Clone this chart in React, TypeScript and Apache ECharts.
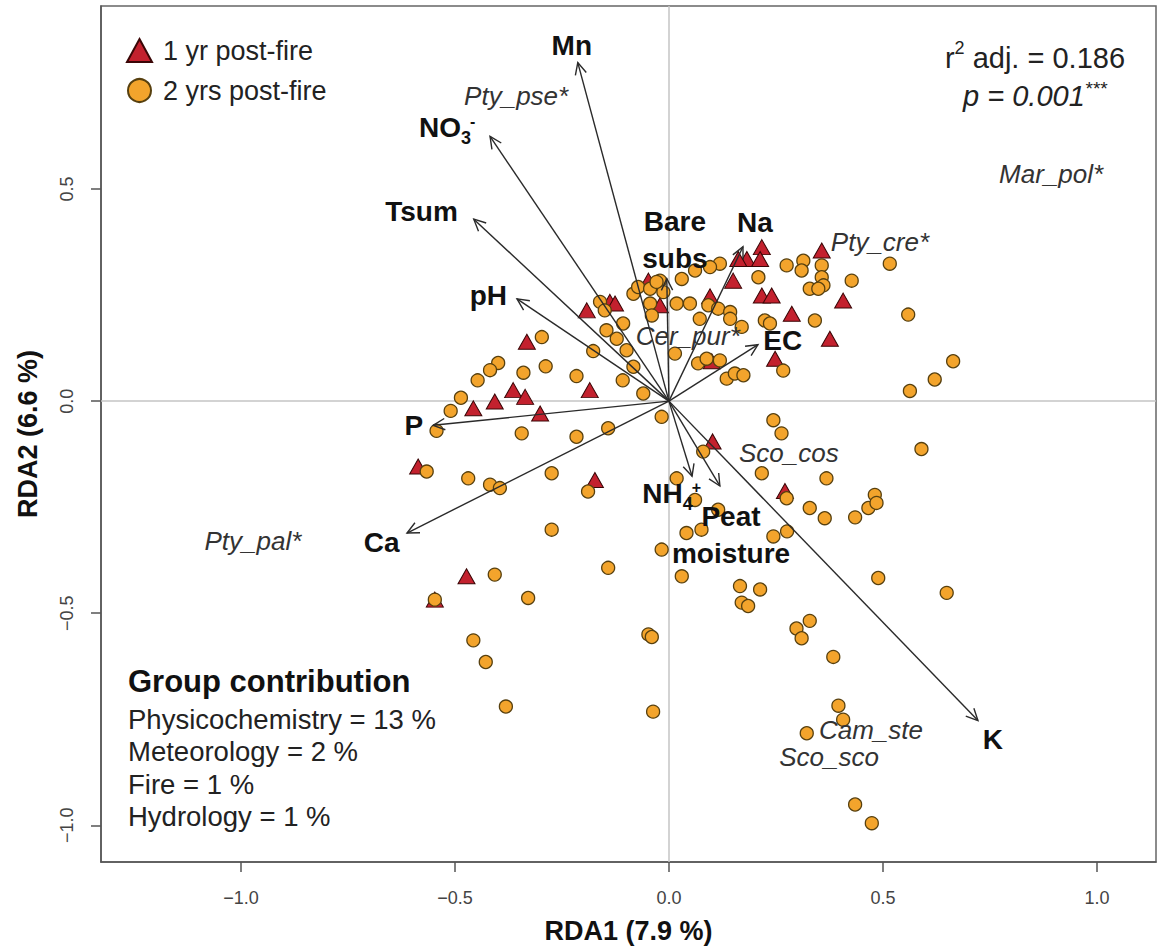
import React, { useEffect, useRef } from 'react';
import * as echarts from 'echarts';

const FONT = "'Liberation Sans', Arial, Helvetica, sans-serif";

// Axis ranges and tick positions (RDA scores)
const xRange = [-1.327, 1.138];
const yRange = [-1.0865, 0.9315];
const xTicks = [-1, -0.5, 0, 0.5, 1];
const yTicks = [-1, -0.5, 0, 0.5];
const xTitle = 'RDA1 (7.9 %)';
const yTitle = 'RDA2 (6.6 %)';

// Site scores, 1 year after the fire (RDA1, RDA2)
const sites1yr: [number, number][] = [
  [-0.332, 0.140], [-0.192, 0.214], [-0.138, 0.234], [-0.126, 0.230], [-0.364, 0.026],
  [-0.336, 0.010], [-0.407, -0.001], [-0.457, -0.017], [-0.301, -0.029], [-0.185, 0.026],
  [-0.048, 0.284], [-0.021, 0.226], [0.096, 0.247], [0.150, 0.284], [0.182, 0.335],
  [0.162, 0.335], [0.217, 0.363], [0.213, 0.335], [0.217, 0.249], [0.240, 0.249],
  [0.287, 0.206], [0.248, 0.100], [0.100, 0.094], [0.357, 0.355], [0.407, 0.237],
  [0.376, 0.147], [-0.586, -0.154], [-0.173, -0.186], [-0.473, -0.413], [-0.547, -0.468],
  [0.102, -0.095], [0.271, -0.212],
];

// Site scores, 2 years after the fire (RDA1, RDA2)
const sites2yr: [number, number][] = [
  [-0.297, 0.151], [-0.399, 0.090], [-0.418, 0.073], [-0.447, 0.049], [-0.340, 0.067],
  [-0.288, 0.082], [-0.216, 0.059], [-0.108, 0.049], [-0.177, 0.118], [-0.486, 0.008],
  [-0.510, -0.023], [-0.543, -0.070], [-0.344, -0.076], [-0.060, 0.018], [-0.017, -0.037],
  [0.244, -0.045], [0.263, -0.076], [-0.146, 0.167], [-0.122, 0.147], [-0.099, 0.120],
  [-0.107, 0.183], [-0.083, 0.081], [-0.161, 0.234], [-0.150, 0.214], [-0.083, 0.253],
  [-0.072, 0.269], [-0.044, 0.265], [-0.021, 0.284], [-0.013, 0.257], [-0.044, 0.230],
  [-0.040, 0.202], [0.018, 0.230], [0.049, 0.230], [0.030, 0.288], [0.119, 0.324],
  [0.096, 0.316], [0.072, 0.194], [0.092, 0.226], [0.115, 0.218], [0.143, 0.210],
  [0.143, 0.194], [0.209, 0.292], [0.224, 0.190], [0.236, 0.183], [0.267, 0.072],
  [0.275, 0.320], [0.135, 0.053], [0.154, 0.065], [0.174, 0.061], [0.068, 0.089],
  [0.088, 0.100], [0.119, 0.096], [0.014, 0.112], [0.170, 0.175], [0.061, 0.308],
  [0.314, 0.331], [0.310, 0.308], [0.357, 0.320], [0.357, 0.292], [0.361, 0.273],
  [0.329, 0.265], [0.349, 0.265], [0.427, 0.284], [0.516, 0.324], [0.341, 0.190],
  [0.559, 0.204], [0.664, 0.094], [0.621, 0.051], [0.563, 0.024], [-0.216, -0.084],
  [-0.142, -0.064], [-0.566, -0.166], [-0.469, -0.182], [-0.418, -0.197], [-0.395, -0.205],
  [-0.274, -0.170], [-0.189, -0.213], [-0.274, -0.303], [-0.142, -0.393], [-0.407, -0.409],
  [-0.547, -0.468], [-0.329, -0.464], [-0.457, -0.564], [-0.428, -0.615], [-0.048, -0.550],
  [-0.040, -0.556], [0.018, -0.182], [0.080, -0.119], [0.061, -0.233], [0.041, -0.311],
  [0.076, -0.303], [-0.017, -0.350], [0.030, -0.413], [0.115, -0.256], [0.166, -0.436],
  [0.213, -0.444], [0.170, -0.475], [0.185, -0.483], [0.244, -0.319], [0.276, -0.307],
  [0.217, -0.170], [0.275, -0.229], [0.590, -0.113], [0.368, -0.182], [0.329, -0.252],
  [0.364, -0.276], [0.435, -0.274], [0.466, -0.252], [0.481, -0.221], [0.485, -0.240],
  [0.489, -0.417], [0.649, -0.452], [0.298, -0.536], [0.329, -0.518], [0.310, -0.559],
  [0.384, -0.603], [0.396, -0.718], [0.407, -0.751], [0.322, -0.783], [0.435, -0.951],
  [0.474, -0.995], [-0.381, -0.720], [-0.037, -0.732], [-0.029, 0.281],
];

// Explanatory variables: biplot arrow tips
const envRDA1 = [-0.213, -0.418, -0.456, -0.355, -0.551, -0.612, 0.208, 0.173, -0.005, 0.054, 0.119, 0.722];
const envRDA2 = [0.798, 0.624, 0.429, 0.241, -0.057, -0.311, 0.133, 0.364, 0.289, -0.177, -0.200, -0.753];
// Their labels, with sub/superscripts, and where the labels sit
const envLabels = ['Mn', 'NO', 'Tsum', 'pH', 'P', 'Ca', 'EC', 'Na', 'Bare\nsubs', 'NH', 'Peat\nmoisture', 'K'];
const envSub = ['', '3', '', '', '', '', '', '', '', '4', '', ''];
const envSup = ['', '-', '', '', '', '', '', '', '', '+', '', ''];
const envLabelX = [-0.227, -0.535, -0.578, -0.422, -0.596, -0.671, 0.266, 0.201, 0.014, -0.015, 0.145, 0.757];
const envLabelY = [0.838, 0.646, 0.446, 0.249, -0.057, -0.334, 0.143, 0.422, 0.380, -0.217, -0.316, -0.797];

// Species scores
const sppNames = ['Pty_pse*', 'Mar_pol*', 'Pty_cre*', 'Cer_pur*', 'Pty_pal*', 'Sco_cos', 'Cam_ste', 'Sco_sco'];
const sppRDA1 = [-0.357, 0.893, 0.493, 0.044, -0.972, 0.280, 0.472, 0.374];
const sppRDA2 = [0.720, 0.535, 0.375, 0.154, -0.330, -0.123, -0.776, -0.840];

// Model statistics
const r2adj = '0.186';
const pValue = '0.001';
const pStars = '***';

// Variance partitioning by variable group
const groupTitle = 'Group contribution';
const groupNames = ['Physicochemistry', 'Meteorology', 'Fire', 'Hydrology'];
const groupPct = [13, 2, 1, 1];

const seriesNames = ['1 yr post-fire', '2 yrs post-fire'];

function textWidth(text: string, size: number, weight = 'normal', style = 'normal') {
  const ctx = document.createElement('canvas').getContext('2d');
  if (!ctx) return text.length * size * 0.55;
  ctx.font = `${style} ${weight} ${size}px ${FONT}`;
  return ctx.measureText(text).width;
}

const fmtTick = (v: number) => (v < 0 ? '\u2212' : '') + Math.abs(v).toFixed(1);

export default function App() {
  const ref = useRef<HTMLDivElement>(null);

  useEffect(() => {
    if (!ref.current) return;
    const chart = echarts.init(ref.current, null, { renderer: 'svg' });

    const ink = '#2a2a2a';

    // statistics block, centred at the top right
    const statCx = 1035;
    const fs = 29;
    const rW = textWidth('r', fs);
    const twoW = textWidth('2', 18);
    const restTxt = ` adj. = ${r2adj}`;
    const restW = textWidth(restTxt, fs);
    const line1Start = statCx - (rW + twoW + restW) / 2;
    const pTxt = `p = ${pValue}`;
    const pW = textWidth(pTxt, fs, 'normal', 'italic');
    const starW = textWidth(pStars, 19, 'normal', 'italic');
    const line2Start = statCx - (pW + starW) / 2;

    const graphics: any[] = [
      { type: 'text', left: line1Start, top: 43, style: { text: 'r', font: `${fs}px ${FONT}`, fill: '#222' } },
      { type: 'text', left: line1Start + rW, top: 39, style: { text: '2', font: `18px ${FONT}`, fill: '#222' } },
      { type: 'text', left: line1Start + rW + twoW, top: 43, style: { text: restTxt, font: `${fs}px ${FONT}`, fill: '#222' } },
      { type: 'text', left: line2Start, top: 81, style: { text: pTxt, font: `italic ${fs}px ${FONT}`, fill: '#222' } },
      { type: 'text', left: line2Start + pW, top: 79, style: { text: pStars, font: `italic 19px ${FONT}`, fill: '#222' } },
      { type: 'text', left: 128, top: 666, style: { text: groupTitle, font: `bold 31px ${FONT}`, fill: '#111' } },
    ];
    groupNames.forEach((g, i) => {
      graphics.push({
        type: 'text',
        left: 128,
        top: 705 + i * 32.5,
        style: { text: `${g} = ${groupPct[i]} %`, font: `27.5px ${FONT}`, fill: '#222' },
      });
    });

    const envData = envRDA1.map((x, i) => [x, envRDA2[i]]);
    const envLabelData = envLabelX.map((x, i) => [x, envLabelY[i], i]);
    const sppData = sppRDA1.map((x, i) => [x, sppRDA2[i], i]);

    const option: any = {
      animation: false,
      backgroundColor: '#ffffff',
      grid: {
        left: 101,
        top: 6,
        width: 1055,
        height: 859,
        show: true,
        borderColor: '#666',
        borderWidth: 1.5,
        backgroundColor: 'transparent',
      },
      legend: {
        orient: 'vertical',
        left: 126,
        top: 37,
        padding: 0,
        itemWidth: 25,
        itemHeight: 23,
        itemGap: 13,
        selectedMode: false,
        textStyle: { fontSize: 27, fontFamily: FONT, color: '#222', padding: [0, 0, 0, 6] },
        data: [
          { name: seriesNames[0], icon: 'triangle' },
          { name: seriesNames[1], icon: 'circle' },
        ],
      },
      xAxis: {
        type: 'value',
        min: xRange[0],
        max: xRange[1],
        splitLine: { show: false },
        axisLine: { show: true, onZero: false, lineStyle: { color: '#555', width: 1.5 } },
        axisTick: { show: true, inside: false, length: 10, customValues: xTicks, lineStyle: { color: '#555', width: 1.5 } },
        axisLabel: { show: true, customValues: xTicks, formatter: fmtTick, color: '#444', fontSize: 18, fontFamily: FONT, margin: 27 },
        name: xTitle,
        nameLocation: 'middle',
        nameGap: 55,
        nameTextStyle: { fontSize: 27, fontWeight: 'bold', color: '#111', fontFamily: FONT },
      },
      yAxis: {
        type: 'value',
        min: yRange[0],
        max: yRange[1],
        splitLine: { show: false },
        axisLine: { show: true, onZero: false, lineStyle: { color: '#555', width: 1.5 } },
        axisTick: { show: true, inside: false, length: 10, customValues: yTicks, lineStyle: { color: '#555', width: 1.5 } },
        axisLabel: { show: true, customValues: yTicks, formatter: fmtTick, color: '#444', fontSize: 18, fontFamily: FONT, margin: 25, rotate: 90 },
        name: yTitle,
        nameLocation: 'middle',
        nameGap: 60,
        nameTextStyle: { fontSize: 27, fontWeight: 'bold', color: '#111', fontFamily: FONT },
      },
      series: [
        {
          name: seriesNames[0],
          type: 'scatter',
          symbol: 'triangle',
          symbolSize: [17, 15],
          data: sites1yr,
          z: 2,
          itemStyle: { color: '#C3212E', borderColor: '#3a0606', borderWidth: 1, opacity: 1 },
          markLine: {
            silent: true,
            symbol: 'none',
            z: 1,
            label: { show: false },
            lineStyle: { color: '#c4c4c4', width: 1.5, type: 'solid' },
            data: [{ xAxis: 0 }, { yAxis: 0 }],
          },
        },
        {
          name: seriesNames[1],
          type: 'scatter',
          symbol: 'circle',
          symbolSize: 13,
          data: sites2yr,
          z: 3,
          itemStyle: { color: '#F3A42C', borderColor: '#57400f', borderWidth: 1.3, opacity: 1 },
        },
        {
          // biplot arrows from the origin
          type: 'custom',
          z: 4,
          silent: true,
          data: envData,
          encode: { x: 0, y: 1 },
          renderItem: (_p: any, api: any) => {
            const o = api.coord([0, 0]);
            const t = api.coord([api.value(0), api.value(1)]);
            const ang = Math.atan2(t[1] - o[1], t[0] - o[0]);
            const L = 13;
            const A = Math.PI / 7;
            const p1 = [t[0] - L * Math.cos(ang - A), t[1] - L * Math.sin(ang - A)];
            const p2 = [t[0] - L * Math.cos(ang + A), t[1] - L * Math.sin(ang + A)];
            return {
              type: 'group',
              children: [
                { type: 'line', shape: { x1: o[0], y1: o[1], x2: t[0], y2: t[1] }, style: { stroke: ink, lineWidth: 1.4 } },
                { type: 'polyline', shape: { points: [p1, t, p2] }, style: { stroke: ink, lineWidth: 1.4, fill: null } },
              ],
            };
          },
        },
        {
          // species names
          type: 'custom',
          z: 5,
          silent: true,
          data: sppData,
          encode: { x: 0, y: 1 },
          renderItem: (_p: any, api: any) => {
            const c = api.coord([api.value(0), api.value(1)]);
            const i = api.value(2);
            return {
              type: 'text',
              x: c[0],
              y: c[1],
              style: {
                text: sppNames[i],
                font: `italic 26px ${FONT}`,
                fill: '#333',
                align: 'center',
                verticalAlign: 'middle',
              },
            };
          },
        },
        {
          // explanatory variable names
          type: 'custom',
          z: 6,
          silent: true,
          data: envLabelData,
          encode: { x: 0, y: 1 },
          renderItem: (_p: any, api: any) => {
            const c = api.coord([api.value(0), api.value(1)]);
            const i = api.value(2);
            const children: any[] = [
              {
                type: 'text',
                x: c[0],
                y: c[1],
                style: {
                  text: envLabels[i],
                  font: `bold 28px ${FONT}`,
                  fill: '#111',
                  align: 'center',
                  verticalAlign: 'middle',
                  lineHeight: 37,
                },
              },
            ];
            if (envSub[i]) {
              const w = textWidth(envLabels[i], 28, 'bold');
              const sx = c[0] + w / 2;
              children.push({
                type: 'text',
                x: sx,
                y: c[1] + 11,
                style: { text: envSub[i], font: `bold 18px ${FONT}`, fill: '#111', align: 'left', verticalAlign: 'middle' },
              });
              children.push({
                type: 'text',
                x: sx + 9,
                y: c[1] - 6,
                style: { text: envSup[i], font: `bold 16px ${FONT}`, fill: '#111', align: 'left', verticalAlign: 'middle' },
              });
            }
            return { type: 'group', children };
          },
        },
      ],
      graphic: { elements: graphics },
    };

    chart.setOption(option);
    return () => chart.dispose();
  }, []);

  return (
    <div
      ref={ref}
      style={{ position: 'fixed', left: 0, top: 0, width: 1158, height: 949, background: '#fff' }}
    />
  );
}
